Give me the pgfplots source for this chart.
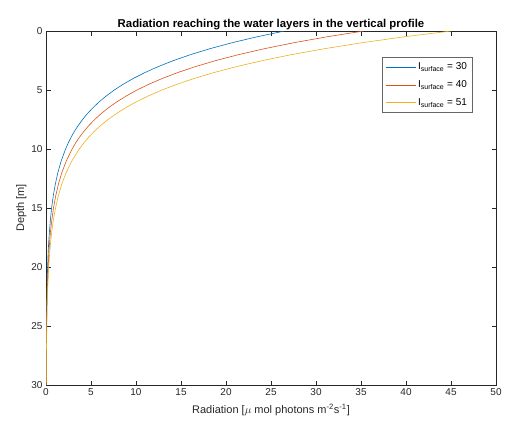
\documentclass[border=0pt]{standalone}
\usepackage{pgfplots}
\pgfplotsset{compat=1.18}
\usepackage{fontspec}
\setmainfont{Liberation Sans}
\definecolor{mblue}{rgb}{0,0.447,0.741}
\definecolor{mred}{rgb}{0.85,0.325,0.098}
\definecolor{myellow}{rgb}{0.929,0.694,0.125}
\definecolor{axgray}{rgb}{0.15,0.15,0.15}
\begin{document}
\begin{tikzpicture}
\useasboundingbox (-46pt,-39pt) rectangle (459pt,385pt);
\begin{axis}[
  at={(0,0)}, anchor=south west,
  scale only axis, width=450pt, height=354pt,
  xmin=0, xmax=50, ymin=0, ymax=30,
  y dir=reverse,
  xtick distance=5, ytick distance=5,
  tick align=inside, major tick length=4.5pt,
  tick style={axgray, line width=0.5pt},
  axis line style={axgray, line width=0.5pt},
  /pgf/number format/assume math mode=true,
  tick label style={font=\fontsize{10}{12}\selectfont, text=axgray},
  title={Radiation reaching the water layers in the vertical profile},
  title style={font=\bfseries\fontsize{11.4}{13}\selectfont, yshift=-8.5pt},
  xlabel={Radiation [$\mu$ mol photons m\textsuperscript{-2}s\textsuperscript{-1}]},
  ylabel={Depth [m]},
  label style={font=\fontsize{11}{13}\selectfont, text=axgray},
  xlabel style={yshift=-2pt},
  ylabel style={yshift=-2pt},
  legend cell align=left,
  legend style={at={(0.947,0.927)}, anchor=north east, font=\fontsize{10}{12}\selectfont,
    draw=black!60, line width=0.5pt, row sep=5.5pt, inner xsep=3pt, inner ysep=3.5pt},
  legend image code/.code={\draw[#1] (0pt,0pt) -- (30pt,0pt);},
]
\addplot[draw=mblue, line width=0.6pt] coordinates {
(26.50,0) (23.39,0.5) (20.64,1) (18.21,1.5) (16.07,2) (14.18,2.5) (12.52,3) (11.05,3.5) (9.75,4) (8.60,4.5)
(7.59,5) (6.70,5.5) (5.91,6) (5.22,6.5) (4.60,7) (4.06,7.5) (3.59,8) (3.16,8.5) (2.79,9) (2.46,9.5)
(2.18,10) (1.69,11) (1.32,12) (1.03,13) (0.80,14) (0.62,15) (0.49,16) (0.38,17) (0.29,18) (0.23,19)
(0.18,20) (0.14,21) (0.11,22) (0.08,23) (0.07,24) (0.05,25) (0.04,26) (0.03,27) (0.02,28) (0.02,29) (0.01,30)};
\addlegendentry{I\textsubscript{surface} = 30}
\addplot[draw=mred, line width=0.6pt] coordinates {
(35.30,0) (31.15,0.5) (27.49,1) (24.26,1.5) (21.41,2) (18.89,2.5) (16.67,3) (14.72,3.5) (12.99,4) (11.46,4.5)
(10.11,5) (8.93,5.5) (7.88,6) (6.95,6.5) (6.13,7) (5.41,7.5) (4.78,8) (4.22,8.5) (3.72,9) (3.28,9.5)
(2.90,10) (2.26,11) (1.76,12) (1.37,13) (1.07,14) (0.83,15) (0.65,16) (0.50,17) (0.39,18) (0.31,19)
(0.24,20) (0.19,21) (0.14,22) (0.11,23) (0.09,24) (0.07,25) (0.05,26) (0.04,27) (0.03,28) (0.03,29) (0.02,30)};
\addlegendentry{I\textsubscript{surface} = 40}
\addplot[draw=myellow, line width=0.6pt] coordinates {
(45.00,0) (39.71,0.5) (35.05,1) (30.93,1.5) (27.29,2) (24.09,2.5) (21.26,3) (18.76,3.5) (16.55,4) (14.61,4.5)
(12.89,5) (11.38,5.5) (10.04,6) (8.86,6.5) (7.82,7) (6.90,7.5) (6.09,8) (5.37,8.5) (4.74,9) (4.19,9.5)
(3.69,10) (2.88,11) (2.24,12) (1.74,13) (1.36,14) (1.06,15) (0.82,16) (0.64,17) (0.50,18) (0.39,19)
(0.30,20) (0.24,21) (0.18,22) (0.14,23) (0.11,24) (0.09,25) (0.07,26) (0.05,27) (0.04,28) (0.03,29) (0.02,30)};
\addlegendentry{I\textsubscript{surface} = 51}
\end{axis}
\end{tikzpicture}
\end{document}
